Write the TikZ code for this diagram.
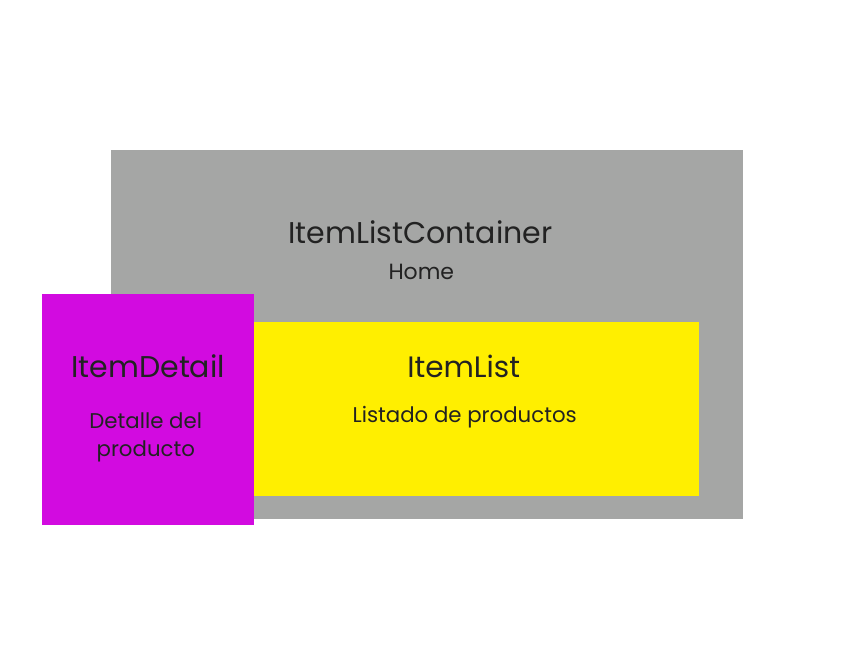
\documentclass[tikz,border=0pt]{standalone}
\usepackage{fontspec}
\setmainfont{Poppins}
\usepackage{tikz}

\definecolor{boxgray}{HTML}{A5A6A5}
\definecolor{boxyellow}{HTML}{FFEF00}
\definecolor{boxmagenta}{HTML}{D20BE0}
\definecolor{inkdark}{HTML}{222222}

\tikzset{
  panel/.style={inner sep=0pt, outer sep=0pt, draw=none},
  title/.style={text=inkdark, anchor=base, inner sep=0pt, font=\fontsize{30}{36}\selectfont},
  sub/.style={text=inkdark, anchor=base, inner sep=0pt, font=\fontsize{21.3}{28}\selectfont}
}

\begin{document}
\begin{tikzpicture}[x=1pt,y=1pt]
\useasboundingbox (0,0) rectangle (850,650);

% panels
\node[panel, fill=boxgray, minimum width=632pt, minimum height=369pt] (container) at (427,315.5) {};
\node[panel, fill=boxyellow, minimum width=445pt, minimum height=174pt] (list) at (476.5,241) {};
\node[panel, fill=boxmagenta, minimum width=212pt, minimum height=231pt] (detail) at (148,240.5) {};

% labels
\node[title] (containername) at (420.5,406.7) {ItemListContainer};
\node[sub, font=\fontsize{22}{28}\selectfont] (containerpage) at (421.3,370) {Home};
\node[title, font=\fontsize{29.5}{36}\selectfont] (listname) at (463.7,272.7) {ItemList};
\node[sub] (listtext) at (464.7,227.3) {Listado de productos};
\node[title] (detailname) at (148.2,272.3) {ItemDetail};
\node[sub] (detailtext) at (145.7,221) {Detalle del};
\node[sub] (detailtext2) at (145.8,193.3) {producto};

\end{tikzpicture}
\end{document}
